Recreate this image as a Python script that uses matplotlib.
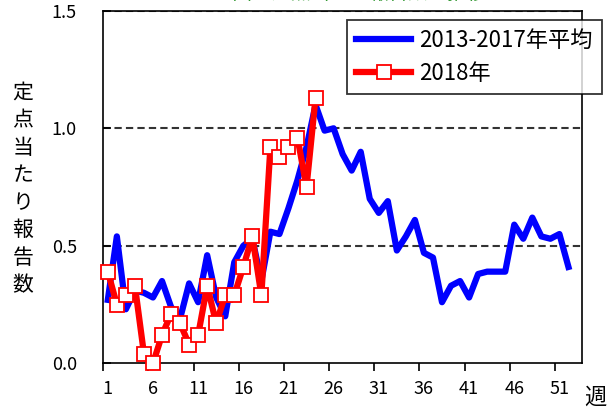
import matplotlib.pyplot as plt
import numpy as np

plt.rcParams['font.family'] = ['Noto Sans CJK JP', 'DejaVu Sans']

# 週ごとの定点当たり報告数
weeks_avg = np.arange(1, 53)
avg_2013_2017 = [0.27, 0.54, 0.23, 0.31, 0.30, 0.28, 0.35, 0.24, 0.19, 0.34,
                 0.26, 0.46, 0.28, 0.20, 0.43, 0.50, 0.53, 0.35, 0.56, 0.55,
                 0.66, 0.78, 0.92, 1.10, 0.99, 1.00, 0.89, 0.82, 0.90, 0.70,
                 0.64, 0.69, 0.48, 0.54, 0.61, 0.47, 0.45, 0.26, 0.33, 0.35,
                 0.28, 0.38, 0.39, 0.39, 0.39, 0.59, 0.53, 0.62, 0.54, 0.53,
                 0.55, 0.41]

weeks_2018 = np.arange(1, 25)
val_2018 = [0.39, 0.25, 0.29, 0.33, 0.04, 0.00, 0.12, 0.21, 0.17, 0.08,
            0.12, 0.33, 0.17, 0.29, 0.29, 0.41, 0.54, 0.29, 0.92, 0.88,
            0.92, 0.96, 0.75, 1.13]

label_avg = '2013-2017年平均'
label_2018 = '2018年'
ylabel = '定点当たり報告数'
xticks = list(range(1, 53, 5))
yticks = [0.0, 0.5, 1.0, 1.5]

fig = plt.figure(figsize=(6.15, 4.12), dpi=100)
ax = fig.add_axes([103.3 / 615, 1 - 363.3 / 412, (582 - 103.3) / 615, (363.3 - 10.8) / 412])

for y in [0.5, 1.0, 1.5]:
    ax.axhline(y, color='#333333', lw=1.5, ls=(0, (3.5, 2)), zorder=1)

ax.plot(weeks_avg, avg_2013_2017, color='#0000ff', lw=4.5, solid_joinstyle='round',
        label=label_avg, zorder=2)
ax.plot(weeks_2018, val_2018, color='#ff0000', lw=4.5, marker='s', markersize=9.5,
        markerfacecolor='white', markeredgecolor='#ff0000', markeredgewidth=1.3,
        label=label_2018, zorder=3, clip_on=False)

ax.set_xlim(0.5, 53.5)
ax.set_ylim(0, 1.5)

# 目盛り線は区切り位置、ラベルは週の中央
ax.set_xticks(xticks)
ax.set_xticklabels([str(t) for t in xticks], fontsize=13)
ax.set_xticks(np.arange(0.5, 53, 5), minor=True)
ax.tick_params(axis='x', which='major', length=0, pad=12)
ax.tick_params(axis='x', which='minor', direction='out', length=6, width=1.2)

ax.set_yticks(yticks)
ax.set_yticklabels(['%.1f' % t for t in yticks], fontsize=13)
ax.tick_params(axis='y', direction='in', length=6, width=1.2, pad=19)

for s in ax.spines.values():
    s.set_color('black')
    s.set_linewidth(1.2)

fig.text(23 / 615, 1 - 189 / 412, '\n'.join(ylabel), ha='center', va='center',
         fontsize=15, linespacing=1.32)
fig.text(595 / 615, 1 - 386 / 412, '週', ha='center', va='top', fontsize=16)
fig.text(350 / 615, 1 - 4 / 412, '全国の定点当たり報告数の推移', ha='center', va='bottom',
         fontsize=14, color='#339933')

leg = ax.legend(loc='upper left', bbox_to_anchor=(347 / 615, 1 - 20 / 412),
                bbox_transform=fig.transFigure, fontsize=16, frameon=True,
                fancybox=False, handlelength=2.5, labelspacing=0.45,
                borderpad=0.4, handletextpad=0.35, borderaxespad=0)
leg.get_frame().set_edgecolor('black')
leg.get_frame().set_linewidth(1.3)
leg.set_zorder(5)

fig.savefig('out.png', dpi=100)
